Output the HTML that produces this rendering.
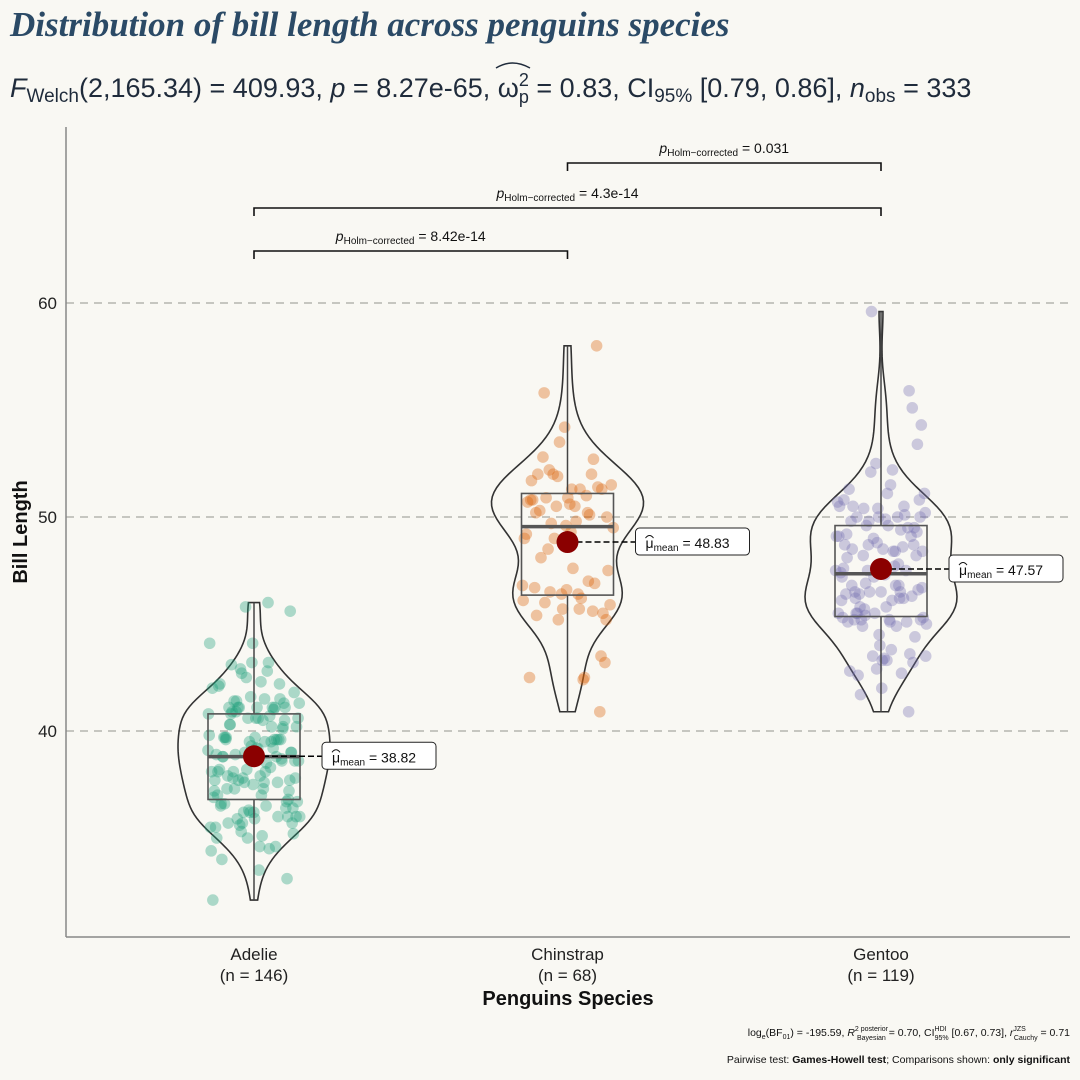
<!DOCTYPE html>
<html><head><meta charset="utf-8"><style>
html,body{margin:0;padding:0;background:#f9f8f3;}
svg{display:block;font-family:"Liberation Sans",sans-serif;}
</style></head><body>
<svg id="chart" width="1080" height="1080" viewBox="0 0 1080 1080" xmlns="http://www.w3.org/2000/svg">
<rect width="1080" height="1080" fill="#f9f8f3"/>
<text x="10" y="36" font-family="Liberation Serif, serif" font-style="italic" font-weight="bold" font-size="35" fill="#2b4a66">Distribution of bill length across penguins species</text>
<text x="10" y="97" font-size="27" fill="#1f2b3b"><tspan font-style="italic">F</tspan><tspan font-size="19" dy="5">Welch</tspan><tspan dy="-5">(2,165.34) = 409.93, </tspan><tspan font-style="italic">p</tspan><tspan> = 8.27e-65, ω</tspan><tspan font-size="18" dy="6">p</tspan><tspan font-size="18" dx="-10" dy="-17">2</tspan><tspan dy="11"> = 0.83, CI</tspan><tspan font-size="19" dy="5">95%</tspan><tspan dy="-5"> [0.79, 0.86], </tspan><tspan font-style="italic">n</tspan><tspan font-size="19" dy="5">obs</tspan><tspan dy="-5"> = 333</tspan></text>
<path d="M496 68 Q512 58 530 68" fill="none" stroke="#1f2b3b" stroke-width="1.5"/>
<g id="grid"></g>
<g id="plot"></g>
<line x1="66" y1="127" x2="66" y2="937" stroke="#888" stroke-width="1.5"/>
<line x1="66" y1="937" x2="1070" y2="937" stroke="#888" stroke-width="1.5"/>
<text transform="translate(27,532) rotate(-90)" text-anchor="middle" font-weight="bold" font-size="20" fill="#111">Bill Length</text>
<text x="568" y="1005" text-anchor="middle" font-weight="bold" font-size="20" fill="#111">Penguins Species</text>
<text x="1070" y="1036" text-anchor="end" font-size="10.5" fill="#111">log<tspan font-size="7" dy="3">e</tspan><tspan dy="-3">(BF</tspan><tspan font-size="7" dy="3">01</tspan><tspan dy="-3">) = -195.59, </tspan><tspan font-style="italic">R</tspan><tspan font-size="7" dy="-5">2 posterior</tspan><tspan font-size="7" dx="-31" dy="9">Bayesian</tspan><tspan dy="-4"> = 0.70, CI</tspan><tspan font-size="7" dy="-5">HDI</tspan><tspan font-size="7" dx="-12" dy="9">95%</tspan><tspan dy="-4"> [0.67, 0.73], </tspan><tspan font-style="italic">r</tspan><tspan font-size="7" dy="-5">JZS</tspan><tspan font-size="7" dx="-12" dy="9">Cauchy</tspan><tspan dy="-4"> = 0.71</tspan></text>
<text x="1070" y="1063" text-anchor="end" font-size="10.5" fill="#111">Pairwise test: <tspan font-weight="bold">Games-Howell test</tspan>; Comparisons shown: <tspan font-weight="bold">only significant</tspan></text>
<script>
const species = ["Adelie","Chinstrap","Gentoo"];
const counts = [146,68,119];
const colors = ["#1b9e77","#d95f02","#7570b3"];
const means = [38.82,48.83,47.57];
const q1 = [36.8,46.35,45.35];
const medians = [38.8,49.55,47.35];
const q3 = [40.8,51.1,49.6];
const whiskLo = [32.1,40.9,40.9];
const whiskHi = [46.0,58.0,59.6];
const yTicks = [40,50,60];
const pairs = [[0,1],[0,2],[1,2]];
const pairLabels = ["8.42e-14","4.3e-14","0.031"];
const adelie = [39.1,39.5,40.3,36.7,39.3,38.9,39.2,41.1,38.6,34.6,36.6,38.7,42.5,34.4,46.0,37.8,37.7,35.9,38.2,38.8,35.3,40.6,40.5,37.9,40.5,39.5,37.2,39.5,40.9,36.4,39.2,38.8,42.2,37.6,39.8,36.5,40.8,36.0,44.1,37.0,39.6,41.1,36.0,42.3,39.6,40.1,35.0,42.0,34.5,41.4,39.0,40.6,36.5,37.6,35.7,41.3,37.6,41.1,36.4,41.6,35.5,41.1,35.9,41.8,33.5,39.7,39.6,45.8,35.5,42.8,40.9,37.2,36.2,42.1,34.6,42.9,36.7,35.1,37.3,41.3,36.3,36.9,38.3,38.9,35.7,41.1,34.0,39.6,36.2,40.8,38.1,40.3,33.1,43.2,35.0,41.0,37.7,37.8,37.9,39.7,38.6,38.2,38.1,43.2,38.1,45.6,39.7,42.2,39.6,42.7,38.6,37.3,35.7,41.1,36.2,37.7,40.2,41.4,35.2,40.6,38.8,41.5,39.0,44.1,38.5,43.1,36.8,37.5,38.1,41.1,35.6,40.2,37.0,39.7,40.2,40.6,32.1,40.7,37.3,39.0,39.2,36.6,36.0,37.8,36.0,41.5];
const chinstrap = [46.5,50.0,51.3,45.4,52.7,45.2,46.1,51.3,46.0,51.3,46.6,51.7,47.0,52.0,45.9,50.5,50.3,58.0,46.4,49.2,42.4,48.5,43.2,50.6,46.7,52.0,50.5,49.5,46.4,52.8,40.9,54.2,42.5,51.0,49.7,47.5,47.6,52.0,46.9,53.5,49.0,46.2,50.9,45.5,50.9,50.8,50.1,49.0,51.5,49.8,48.1,51.4,45.7,50.7,42.5,52.2,45.2,49.3,50.2,45.6,51.9,46.8,45.7,55.8,43.5,49.6,50.8,50.2];
const gentoo = [46.1,50.0,48.7,50.0,47.6,46.5,45.4,46.7,43.3,46.8,40.9,49.0,45.5,48.4,45.8,49.3,42.0,49.2,46.2,48.7,50.2,45.1,46.5,46.3,42.9,46.1,47.8,48.2,50.0,47.3,42.8,45.1,59.6,49.1,48.4,42.6,44.4,44.0,48.7,42.7,49.6,45.3,49.6,50.5,43.6,45.5,50.5,44.9,45.2,46.6,48.5,45.1,50.1,46.5,45.0,43.8,45.5,43.2,50.4,45.3,46.2,45.7,54.3,45.8,49.8,49.5,43.5,50.7,47.7,46.4,48.2,46.5,46.4,48.6,47.5,51.1,45.2,45.2,49.1,52.5,47.4,50.0,44.9,50.8,43.4,51.3,47.5,52.1,47.5,52.2,45.5,49.5,44.5,50.8,49.4,46.9,48.4,51.1,48.5,55.9,47.2,49.1,46.8,41.7,53.4,43.3,48.1,50.5,49.8,43.5,51.5,46.2,55.1,48.8,47.2,46.8,50.4,45.2,49.9];
const groups = [adelie, chinstrap, gentoo];

const NS = "http://www.w3.org/2000/svg";
function y(v){ return 731 - (v - 40) * 21.4; }
function x(i){ return 254 + i * 313.5; }
function mk(tag, attrs, parent){ const e = document.createElementNS(NS, tag); for (const k in attrs) e.setAttribute(k, attrs[k]); parent.appendChild(e); return e; }
function ts(parent, txt, attrs){ const t = mk('tspan', attrs || {}, parent); t.textContent = txt; return t; }
const grid = document.getElementById('grid');
const plot = document.getElementById('plot');
const svg = document.getElementById('chart');

yTicks.forEach(t => {
  const l = mk('line', {x1:66, x2:1070, y1:y(t), y2:y(t), stroke:'#b5b5b0', 'stroke-width':1.5, 'stroke-dasharray':'8 6'}, grid);
  
  
  const tk = mk('text', {x:57, y:y(t)+6, 'text-anchor':'end', 'font-size':17, fill:'#222'}, svg);
  tk.textContent = t;
  
  
});

species.forEach((s, i) => {
  const data = groups[i];
  const cx = x(i);
  const n = data.length;
  const m = data.reduce((a,b)=>a+b,0)/n;
  const sd = Math.sqrt(data.reduce((a,b)=>a+(b-m)*(b-m),0)/(n-1));
  const bw = 0.9 * sd * Math.pow(n, -0.2);
  const lo = Math.min(...data), hi = Math.max(...data);
  const steps = 80, dens = [];
  for (let k=0;k<=steps;k++){
    const v = lo + (hi-lo)*k/steps;
    let d = 0; data.forEach(p => { const z=(v-p)/bw; d += Math.exp(-0.5*z*z); });
    dens.push([v,d]);
  }
  const maxD = Math.max(...dens.map(d=>d[1]));
  let right = [], left = [];
  dens.forEach(([v,d]) => { const w = d/maxD*76; right.push((cx+w)+','+y(v)); left.unshift((cx-w)+','+y(v)); });
  const vio = mk('polygon', {points: right.concat(left).join(' '), fill:'none', stroke:'#333', 'stroke-width':1.6}, plot);
  
  
  data.forEach((v, k) => {
    const j = (((k*0.6180339 + i*0.31) % 1) - 0.5) * 2 * 46;
    const c = mk('circle', {cx: cx + j, cy: y(v), r: 5.8, fill: colors[i], 'fill-opacity': 0.35}, plot);
    
    
  });
  const bg = mk('g', {}, plot);
  
  
  mk('line', {x1:cx, x2:cx, y1:y(q3[i]), y2:y(whiskHi[i]), stroke:'#444', 'stroke-width':1.5}, bg);
  mk('line', {x1:cx, x2:cx, y1:y(q1[i]), y2:y(whiskLo[i]), stroke:'#444', 'stroke-width':1.5}, bg);
  mk('rect', {x:cx-46, y:y(q3[i]), width:92, height:y(q1[i])-y(q3[i]), fill:'none', stroke:'#555', 'stroke-width':1.6}, bg);
  mk('line', {x1:cx-46, x2:cx+46, y1:y(medians[i]), y2:y(medians[i]), stroke:'#555', 'stroke-width':3.5}, bg);
  const my = y(means[i]);
  const dl = mk('line', {x1:cx, x2:cx+70, y1:my, y2:my, stroke:'#000', 'stroke-width':1.5, 'stroke-dasharray':'6 3'}, plot);
  
  
  const mp = mk('circle', {cx:cx, cy:my, r:11, fill:'#8b0000'}, plot);
  
  
  const lb = mk('g', {}, plot);
  
  
  mk('rect', {x:cx+68, y:my-14, width:114, height:27, rx:4, fill:'#fff', stroke:'#222', 'stroke-width':1}, lb);
  const lt = mk('text', {x:cx+78, y:my+6, 'font-size':14, fill:'#111'}, lb);
  ts(lt, 'μ');
  ts(lt, 'mean', {'font-size':10, dy:3});
  ts(lt, ' = ' + means[i].toFixed(2), {dy:-3});
  mk('path', {d:'M'+(cx+78)+' '+(my-4)+' q4 -5 8 0', fill:'none', stroke:'#111', 'stroke-width':1}, lb);
  const xl = mk('text', {x:cx, y:960, 'text-anchor':'middle', 'font-size':17, fill:'#222'}, svg);
  ts(xl, s, {x:cx});
  ts(xl, '(n = ' + counts[i] + ')', {x:cx, dy:21});
  
  
});

const bracketY = [251, 208, 163];
pairs.forEach((p, k) => {
  const g = mk('g', {}, plot);
  
  
  const x1 = x(p[0]), x2 = x(p[1]), by = bracketY[k];
  mk('path', {d:'M'+x1+' '+(by+8)+' V'+by+' H'+x2+' V'+(by+8), fill:'none', stroke:'#111', 'stroke-width':1.6}, g);
  const t = mk('text', {x:(x1+x2)/2, y:by-10, 'text-anchor':'middle', 'font-size':14, fill:'#111'}, g);
  ts(t, 'p', {'font-style':'italic'});
  ts(t, 'Holm−corrected', {'font-size':10, dy:3});
  ts(t, ' = ' + pairLabels[k], {dy:-3});
});
</script>
</svg>
</body></html>
